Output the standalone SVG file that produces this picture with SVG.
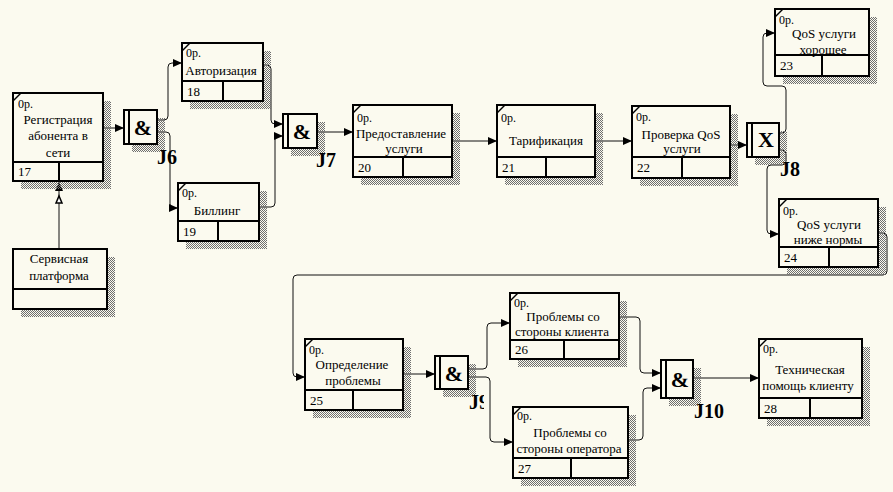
<svg xmlns="http://www.w3.org/2000/svg" width="893" height="492" viewBox="0 0 893 492">
<defs>
<pattern id="hatch" width="2" height="2" patternUnits="userSpaceOnUse">
<rect x="0" y="0" width="1" height="1" fill="#6e6e6e"/>
<rect x="1" y="1" width="1" height="1" fill="#6e6e6e"/>
</pattern>
<marker id="ah" markerUnits="userSpaceOnUse" markerWidth="10" markerHeight="9" refX="9" refY="4" orient="auto">
<path d="M0,0 L9,4 L0,8 z" fill="#000"/>
</marker>
<clipPath id="cj9"><rect x="460" y="390" width="24" height="30"/></clipPath>
</defs>
<style>
.bg{fill:#fbfaef}
.sh{fill:url(#hatch)}
.bx{fill:#fbfaef;stroke:#000;stroke-width:2}
.ln{stroke:#000;stroke-width:2}
.dg{stroke:#000;stroke-width:1.5}
text{font-family:"Liberation Serif","Times New Roman",serif;fill:#000}
.t{font-size:13px;text-anchor:middle}
.op{font-size:12px}
.n{font-size:13px}
.jl{font-size:20px;font-weight:bold}
.js{font-size:22px;font-weight:bold;text-anchor:middle}
.c{fill:none;stroke:#111;stroke-width:1;marker-end:url(#ah)}
</style>
<rect class="bg" x="0" y="0" width="893" height="492"/>

<g id="connectors">
<path class="c" d="M103,128 H124"/>
<path class="c" d="M157,120 H164 Q168,120 168,116 V67 Q168,63 172,63 H182"/>
<path class="c" d="M157,132 H166 Q170,132 170,136 V204 Q170,208 174,208 H178"/>
<path class="c" d="M263,65 H267 Q271,65 271,69 V120 Q271,124 275,124 H283"/>
<path class="c" d="M259,207 H271 Q275,207 275,203 V140 Q275,136 277,136 H283"/>
<path class="c" d="M317,132 H353"/>
<path class="c" d="M452,141 H497"/>
<path class="c" d="M595,141 H632"/>
<path class="c" d="M730,145 H747"/>
<path class="c" d="M779,133 H782 Q786,133 786,129 V90 Q786,86 782,86 H767 Q763,86 763,82 V37 Q763,33 767,33 H775"/>
<path class="c" d="M779,150 H782 Q786,150 786,154 V161 Q786,165 782,165 H771 Q767,165 767,169 V230 Q767,234 771,234 H779"/>
<path class="c" d="M878,233 H883 Q887,233 887,237 V271 Q887,275 883,275 H297 Q293,275 293,279 V373 Q293,377 297,377 H305"/>
<path class="c" d="M403,374 H435"/>
<path class="c" d="M468,369 H483 Q487,369 487,365 V327 Q487,323 491,323 H510"/>
<path class="c" d="M468,377 H486 Q490,377 490,381 V438 Q490,442 494,442 H513"/>
<path class="c" d="M619,317 H636 Q640,317 640,321 V369 Q640,373 644,373 H661"/>
<path class="c" d="M628,440 H639 Q643,440 643,436 V392 Q643,388 647,388 H661"/>
<path class="c" d="M693,378 H759"/>
<path class="c" d="M59,249 V182"/>
<path d="M56,203 L59,196 L62,203 z" fill="#fff" stroke="#000" stroke-width="1.5"/>
</g>

<g id="box17">
<rect class="sh" x="21" y="101" width="90" height="88"/>
<rect class="bx" x="13" y="93" width="90" height="88"/>
<line class="ln" x1="13" y1="162" x2="103" y2="162"/><line class="ln" x1="59" y1="162" x2="59" y2="181"/>
<line class="dg" x1="13" y1="101" x2="21" y2="93"/>
<text class="op" x="18" y="108">0р.</text>
<text class="t" x="58" y="124">Регистрация</text>
<text class="t" x="58" y="140">абонента в</text>
<text class="t" x="58" y="157">сети</text>
<text class="n" x="18" y="176">17</text>
</g>

<g id="box18">
<rect class="sh" x="190" y="51" width="81" height="58"/>
<rect class="bx" x="182" y="43" width="81" height="58"/>
<line class="ln" x1="182" y1="81" x2="263" y2="81"/><line class="ln" x1="223" y1="81" x2="223" y2="101"/>
<line class="dg" x1="182" y1="51" x2="190" y2="43"/>
<text class="op" x="186" y="57">0р.</text>
<text class="t" x="221" y="75">Авторизация</text>
<text class="n" x="187" y="96">18</text>
</g>

<g id="box19">
<rect class="sh" x="186" y="191" width="81" height="58"/>
<rect class="bx" x="178" y="183" width="81" height="58"/>
<line class="ln" x1="178" y1="221" x2="259" y2="221"/><line class="ln" x1="218" y1="221" x2="218" y2="241"/>
<line class="dg" x1="178" y1="191" x2="186" y2="183"/>
<text class="op" x="182" y="197">0р.</text>
<text class="t" x="217" y="215">Биллинг</text>
<text class="n" x="183" y="236">19</text>
</g>

<g id="box20">
<rect class="sh" x="361" y="113" width="99" height="72"/>
<rect class="bx" x="353" y="105" width="99" height="72"/>
<line class="ln" x1="353" y1="157" x2="452" y2="157"/><line class="ln" x1="403" y1="157" x2="403" y2="177"/>
<line class="dg" x1="353" y1="113" x2="361" y2="105"/>
<text class="op" x="357" y="122">0р.</text>
<text class="t" x="401" y="138">Предоставление</text>
<text class="t" x="404" y="153">услуги</text>
<text class="n" x="358" y="172">20</text>
</g>

<g id="box21">
<rect class="sh" x="505" y="113" width="98" height="72"/>
<rect class="bx" x="497" y="105" width="98" height="72"/>
<line class="ln" x1="497" y1="157" x2="595" y2="157"/><line class="ln" x1="546" y1="157" x2="546" y2="177"/>
<line class="dg" x1="497" y1="113" x2="505" y2="105"/>
<text class="op" x="501" y="122">0р.</text>
<text class="t" x="546" y="145">Тарификация</text>
<text class="n" x="502" y="172">21</text>
</g>

<g id="box22">
<rect class="sh" x="640" y="114" width="98" height="72"/>
<rect class="bx" x="632" y="106" width="98" height="72"/>
<line class="ln" x1="632" y1="157" x2="730" y2="157"/><line class="ln" x1="682" y1="157" x2="682" y2="178"/>
<line class="dg" x1="632" y1="114" x2="640" y2="106"/>
<text class="op" x="636" y="121">0р.</text>
<text class="t" x="681" y="139">Проверка QoS</text>
<text class="t" x="682" y="153">услуги</text>
<text class="n" x="637" y="172">22</text>
</g>

<g id="box23">
<rect class="sh" x="783" y="17" width="94" height="67"/>
<rect class="bx" x="775" y="9" width="94" height="67"/>
<text class="op" x="779" y="24">0р.</text>
<text class="t" x="824" y="38">QoS услуги</text>
<text class="t" x="823" y="54">хорошее</text>
<line class="ln" x1="775" y1="55" x2="869" y2="55"/><line class="ln" x1="822" y1="55" x2="822" y2="76"/>
<line class="dg" x1="775" y1="17" x2="783" y2="9"/>
<text class="n" x="780" y="70">23</text>
</g>

<g id="box24">
<rect class="sh" x="787" y="207" width="99" height="68"/>
<rect class="bx" x="779" y="199" width="99" height="68"/>
<text class="op" x="783" y="215">0р.</text>
<text class="t" x="829" y="229">QoS услуги</text>
<text class="t" x="828" y="244">ниже нормы</text>
<line class="ln" x1="779" y1="247" x2="878" y2="247"/><line class="ln" x1="829" y1="247" x2="829" y2="267"/>
<line class="dg" x1="779" y1="207" x2="787" y2="199"/>
<text class="n" x="784" y="262">24</text>
</g>

<g id="boxService">
<rect class="sh" x="21" y="257" width="94" height="60"/>
<rect class="bx" x="13" y="249" width="94" height="60"/>
<line class="ln" x1="13" y1="289" x2="107" y2="289"/>
<text class="t" x="59" y="263">Сервисная</text>
<text class="t" x="59" y="280">платформа</text>
</g>

<g id="box25">
<rect class="sh" x="313" y="347" width="98" height="71"/>
<rect class="bx" x="305" y="339" width="98" height="71"/>
<line class="ln" x1="305" y1="390" x2="403" y2="390"/><line class="ln" x1="353" y1="390" x2="353" y2="410"/>
<line class="dg" x1="305" y1="347" x2="313" y2="339"/>
<text class="op" x="309" y="354">0р.</text>
<text class="t" x="352" y="369">Определение</text>
<text class="t" x="353" y="385">проблемы</text>
<text class="n" x="310" y="405">25</text>
</g>

<g id="box26">
<rect class="sh" x="518" y="301" width="109" height="66"/>
<rect class="bx" x="510" y="293" width="109" height="66"/>
<line class="ln" x1="510" y1="340" x2="619" y2="340"/><line class="ln" x1="564" y1="340" x2="564" y2="359"/>
<line class="dg" x1="510" y1="301" x2="518" y2="293"/>
<text class="op" x="514" y="307">0р.</text>
<text class="t" x="563" y="321">Проблемы со</text>
<text class="t" x="562" y="336">стороны клиента</text>
<text class="n" x="515" y="354">26</text>
</g>

<g id="box27">
<rect class="sh" x="521" y="415" width="115" height="71"/>
<rect class="bx" x="513" y="407" width="115" height="71"/>
<line class="ln" x1="513" y1="458" x2="628" y2="458"/><line class="ln" x1="571" y1="458" x2="571" y2="478"/>
<line class="dg" x1="513" y1="415" x2="521" y2="407"/>
<text class="op" x="517" y="420">0р.</text>
<text class="t" x="570" y="437">Проблемы со</text>
<text class="t" x="569" y="453">стороны оператора</text>
<text class="n" x="518" y="473">27</text>
</g>

<g id="box28">
<rect class="sh" x="767" y="347" width="103" height="79"/>
<rect class="bx" x="759" y="339" width="103" height="79"/>
<line class="ln" x1="759" y1="398" x2="862" y2="398"/><line class="ln" x1="810" y1="398" x2="810" y2="418"/>
<line class="dg" x1="759" y1="347" x2="767" y2="339"/>
<text class="op" x="763" y="353">0р.</text>
<text class="t" x="810" y="374">Техническая</text>
<text class="t" x="808" y="390">помощь клиенту</text>
<text class="n" x="764" y="413">28</text>
</g>

<g id="J6">
<rect class="sh" x="132" y="118" width="33" height="34"/>
<rect class="bx" x="124" y="110" width="33" height="34"/>
<line class="ln" x1="129" y1="110" x2="129" y2="144"/>
<text class="js" x="143" y="135">&amp;</text>
<text class="jl" x="157" y="164">J6</text>
</g>

<g id="J7">
<rect class="sh" x="291" y="122" width="34" height="34"/>
<rect class="bx" x="283" y="114" width="34" height="34"/>
<line class="ln" x1="288" y1="114" x2="288" y2="148"/>
<text class="js" x="302" y="139">&amp;</text>
<text class="jl" x="316" y="167">J7</text>
</g>

<g id="J8">
<rect class="sh" x="755" y="131" width="32" height="34"/>
<rect class="bx" x="747" y="123" width="32" height="34"/>
<line class="ln" x1="752" y1="123" x2="752" y2="157"/>
<text class="js" x="766" y="147">X</text>
<text class="jl" x="780" y="176">J8</text>
</g>

<g id="J9">
<rect class="sh" x="443" y="364" width="33" height="33"/>
<rect class="bx" x="435" y="356" width="33" height="33"/>
<line class="ln" x1="440" y1="356" x2="440" y2="389"/>
<text class="js" x="454" y="381">&amp;</text>
<text class="jl" x="469" y="409" clip-path="url(#cj9)">J9</text>
</g>

<g id="J10">
<rect class="sh" x="669" y="368" width="32" height="38"/>
<rect class="bx" x="661" y="360" width="32" height="38"/>
<line class="ln" x1="666" y1="360" x2="666" y2="398"/>
<text class="js" x="680" y="387">&amp;</text>
<text class="jl" x="694" y="418">J10</text>
</g>
</svg>
